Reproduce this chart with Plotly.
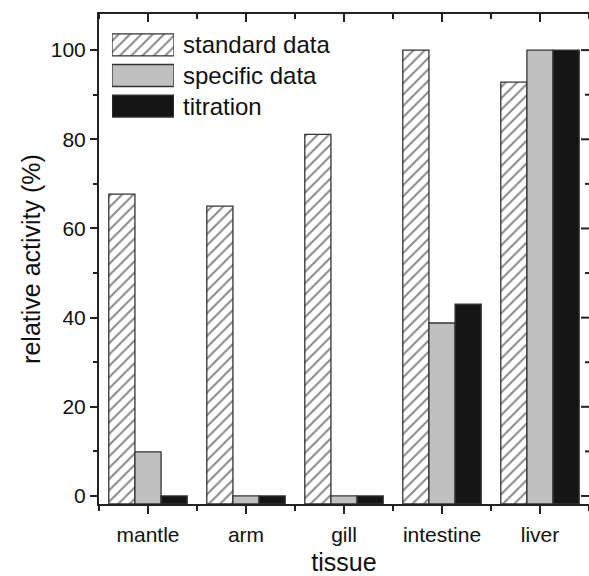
import plotly.graph_objects as go

categories = ["mantle", "arm", "gill", "intestine", "liver"]
standard_data = [67.7, 65.0, 81.1, 100.0, 92.8]
specific_data = [9.9, 0.0, 0.0, 38.8, 100.0]
titration = [0.0, 0.0, 0.0, 43.0, 100.0]
series_names = ["standard data", "specific data", "titration"]
y_major = [0, 20, 40, 60, 80, 100]
y_minor = [10, 30, 50, 70, 90]

Y0, Y1 = -1.8, 108.1
FONT = "Liberation Sans, Arial, sans-serif"
LINE = "#222222"
OUT = "#333333"

xs = list(range(len(categories)))
bounds = [i - 0.5 for i in range(len(categories) + 1)]
XR = [bounds[0], bounds[-1]]

def heights(vals):
    return [v - Y0 for v in vals]

fig = go.Figure()
styles = [
    dict(color="white", pattern=dict(shape="/", size=8, solidity=0.25, fgcolor="#111111", bgcolor="white")),
    dict(color="#c0c0c0"),
    dict(color="#151515"),
]
for name, vals, st in zip(series_names, [standard_data, specific_data, titration], styles):
    fig.add_trace(go.Bar(
        x=xs, y=heights(vals), base=Y0, name=name,
        marker=dict(line=dict(color=OUT, width=1.3), **st),
        customdata=vals, hovertemplate="%{customdata}<extra>" + name + "</extra>",
        showlegend=False, xaxis="x", yaxis="y",
    ))

# mirrored inward ticks on the top and right frame
tick_line = dict(color=LINE, width=2)
for v, ln in [(v, 8) for v in xs] + [(v, 5) for v in bounds]:
    fig.add_shape(type="line", xref="x", yref="y domain", ysizemode="pixel", yanchor=1,
                  x0=v, x1=v, y0=0, y1=-ln, line=tick_line, layer="above")
for v, ln in [(v, 8) for v in y_major] + [(v, 4) for v in y_minor]:
    fig.add_shape(type="line", xref="x domain", yref="y", xsizemode="pixel", xanchor=1,
                  x0=0, x1=-ln, y0=v, y1=v, line=tick_line, layer="above")

# custom legend drawn on a small hidden axis pair
for i, (name, st) in enumerate(zip(series_names, styles)):
    fig.add_trace(go.Bar(
        x=[1], y=[i], base=0, orientation="h", width=0.72,
        marker=dict(line=dict(color=OUT, width=1.3), **st),
        xaxis="x3", yaxis="y3", showlegend=False, hoverinfo="skip",
    ))
    fig.add_annotation(x=1, y=i, xref="x3", yref="y3", text=name, showarrow=False,
                       xanchor="left", yanchor="middle", xshift=7,
                       font=dict(family=FONT, size=24, color="#111111"))

axis_common = dict(showgrid=False, zeroline=False, linecolor=LINE, linewidth=2,
                   tickcolor=LINE, tickwidth=2)

fig.update_layout(
    width=589, height=576,
    margin=dict(l=99, r=0, t=14, b=72),
    paper_bgcolor="white", plot_bgcolor="white",
    barmode="group", bargap=0.2, bargroupgap=0,
    font=dict(family=FONT, size=21, color="#111111"),
    showlegend=False,
    xaxis=dict(domain=[0, 1], range=XR, tickmode="array", tickvals=xs, ticktext=categories,
               ticks="outside", ticklen=8, showline=True, mirror=True, ticklabelstandoff=3,
               minor=dict(tickmode="array", tickvals=bounds, ticks="outside",
                          ticklen=5, tickcolor=LINE, tickwidth=2),
               title=dict(text="tissue", font=dict(size=25), standoff=12),
               tickfont=dict(size=21), anchor="y", **axis_common),
    yaxis=dict(domain=[0, 1], range=[Y0, Y1], tickmode="array", tickvals=y_major,
               ticks="outside", ticklen=7, showline=True,
               minor=dict(tickmode="array", tickvals=y_minor, ticks="outside", ticklen=4,
                          tickcolor=LINE, tickwidth=2),
               title=dict(text="relative activity (%)", font=dict(size=25), standoff=3),
               tickfont=dict(size=21), anchor="x", **axis_common),
    xaxis3=dict(domain=[0.0265, 0.153], range=[0, 1], visible=False, anchor="y3", fixedrange=True),
    yaxis3=dict(domain=[0.781, 0.968], range=[2.5, -0.5], visible=False, anchor="x3", fixedrange=True),
)

fig.write_html("out.html", config={"displayModeBar": False},
               post_script="document.body.style.margin='0';document.body.style.overflow='hidden';")
